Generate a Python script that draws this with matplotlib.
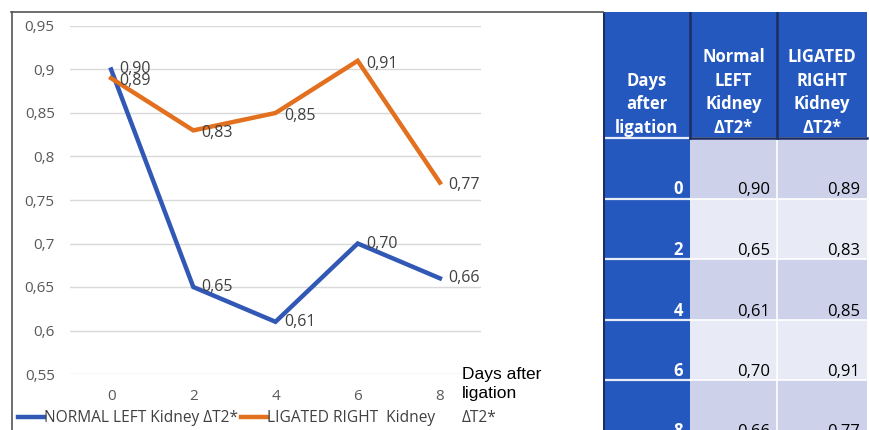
import numpy as np
import matplotlib.pyplot as plt
from matplotlib.patches import Rectangle
from matplotlib.lines import Line2D

# data
days = [0, 2, 4, 6, 8]
normal_left = [0.90, 0.65, 0.61, 0.70, 0.66]
ligated_right = [0.89, 0.83, 0.85, 0.91, 0.77]
y_ticks = [0.55, 0.6, 0.65, 0.7, 0.75, 0.8, 0.85, 0.9, 0.95]
series_names = ['NORMAL LEFT Kidney ΔT2*', 'LIGATED RIGHT  Kidney']
table_headers = ['Days\nafter\nligation', 'Normal\nLEFT\nKidney\nΔT2*',
                 'LIGATED\nRIGHT\nKidney\nΔT2*']

BLUE = '#3058b4'
ORANGE = '#e2701f'
TXT = '#404040'
TICK = '#595959'
TAB_BLUE = '#2458bf'
CELL_A = '#cdd2ea'
CELL_B = '#e8ebf5'
FONT = 'Open Sans'

def fmt(v):
    return f'{v:.2f}'.replace('.', ',')

W, H = 869, 430
fig = plt.figure(figsize=(W / 100, H / 100), dpi=100)
fig.patch.set_facecolor('white')

# frame lines around chart area
fig.add_artist(Line2D([11 / W, 603 / W], [1 - 12 / H, 1 - 12 / H], color='#555555', lw=1.2))
fig.add_artist(Line2D([12 / W, 12 / W], [0, 1 - 12 / H], color='#555555', lw=1.2))

# ---- line chart
ax = fig.add_axes([70 / W, 1 - 374 / H, 411 / W, 348 / H])
ax.set_xlim(-1, 9)
ax.set_ylim(0.55, 0.95)
for s in ax.spines.values():
    s.set_visible(False)
ax.set_yticks(y_ticks)
ax.set_yticklabels([f'{t:g}'.replace('.', ',') for t in y_ticks])
ax.set_xticks(days)
ax.tick_params(axis='both', length=0, labelsize=11, labelcolor=TICK)
ax.tick_params(axis='y', pad=11)
ax.tick_params(axis='x', pad=11)
for lab in ax.get_xticklabels() + ax.get_yticklabels():
    lab.set_family(FONT)
ax.grid(axis='y', color='#d9d9d9', lw=1)
ax.set_axisbelow(True)

l1, = ax.plot(days, normal_left, color=BLUE, lw=3.2, solid_joinstyle='miter', clip_on=False)
l2, = ax.plot(days, ligated_right, color=ORANGE, lw=3.2, solid_joinstyle='miter', clip_on=False)

for x, v in zip(days, normal_left):
    ax.annotate(fmt(v), (x, v), xytext=(6, 0), textcoords='offset points',
                ha='left', va='center', fontsize=11.5, color=TXT, family=FONT)
for x, v in zip(days, ligated_right):
    ax.annotate(fmt(v), (x, v), xytext=(6, -2), textcoords='offset points',
                ha='left', va='center', fontsize=11.5, color=TXT, family=FONT)

ax.text(462 / W, 1 - 384 / H, 'Days after\nligation', transform=fig.transFigure,
        ha='left', va='center', fontsize=12.5, color='black', family='Liberation Sans',
        linespacing=1.35)

leg = fig.legend([l1, l2], series_names, loc='center left',
                 bbox_to_anchor=(18 / W, 1 - 418 / H), ncol=2, frameon=False,
                 handlelength=1.7, handletextpad=0.0, columnspacing=0.15,
                 prop={'family': FONT, 'size': 11.2}, borderaxespad=0, borderpad=0)
for t in leg.get_texts():
    t.set_color(TXT)
fig.text(462 / W, 1 - 418 / H, 'ΔT2*', ha='left', va='center', fontsize=11.2,
         color=TXT, family=FONT)

# ---- table
tx0 = 603
tab = fig.add_axes([tx0 / W, 0, (W - tx0) / W, 418 / H])
tab.set_xlim(0, W - tx0)
tab.set_ylim(418, 0)
tab.axis('off')

col_edges = [0, 87, 174, 264]
head_h = 126
row_h = 60.5

# header
tab.add_patch(Rectangle((0, 0), col_edges[-1], head_h, facecolor=TAB_BLUE, edgecolor='none'))
for c in range(3):
    cx = (col_edges[c] + col_edges[c + 1]) / 2
    tab.text(cx, head_h - 1, table_headers[c], ha='center', va='bottom', color='white',
             fontsize=12, fontweight='bold', family=FONT, linespacing=1.4)

# body
for r, d in enumerate(days):
    y0 = head_h + r * row_h
    tab.add_patch(Rectangle((0, y0), col_edges[1], row_h, facecolor=TAB_BLUE, edgecolor='none'))
    fill = CELL_A if r % 2 == 0 else CELL_B
    tab.add_patch(Rectangle((col_edges[1], y0), col_edges[-1] - col_edges[1], row_h,
                            facecolor=fill, edgecolor='none'))
    tab.plot([0, col_edges[1]], [y0, y0], color='#e8ecf7', lw=1.6)
    tab.plot([col_edges[1], col_edges[-1]], [y0, y0], color='white', lw=1.2)
    vals = [str(d), fmt(normal_left[r]), fmt(ligated_right[r])]
    for c in range(3):
        tab.text(col_edges[c + 1] - 7, y0 + row_h - 4, vals[c], ha='right', va='baseline',
                 fontsize=12, color='white' if c == 0 else 'black',
                 fontweight='bold' if c == 0 else 'normal', family=FONT)

# body vertical white separator
tab.plot([col_edges[2], col_edges[2]], [head_h, 418], color='white', lw=1.2)
# header dark separators
for xe in col_edges[1:3]:
    tab.plot([xe, xe], [0, head_h], color='#1b2d63', lw=1.8)
tab.plot([col_edges[1], col_edges[-1]], [head_h, head_h], color='#1b2d63', lw=1.8)
tab.plot([0.5, 0.5], [0, 418], color='#1b2d63', lw=1.5)

fig.savefig('out.png', dpi=100, facecolor='white')
